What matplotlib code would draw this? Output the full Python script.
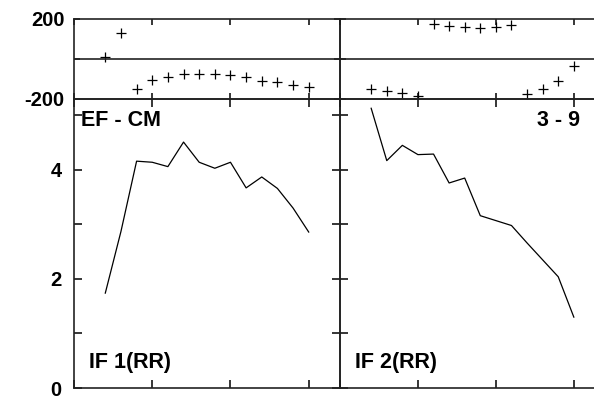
import numpy as np
import matplotlib
matplotlib.use("Agg")
import matplotlib.pyplot as plt

plt.rcParams['font.family'] = ['Liberation Sans', 'DejaVu Sans']
plt.rcParams['font.weight'] = 'bold'

# x positions (same for both columns)
x = [2, 3, 4, 5, 6, 7, 8, 9, 10, 11, 12, 13, 14, 15]

# top row: phase values (+ markers)
phase_left = [12, 128, -152, -105, -88, -75, -75, -75, -82, -92, -108, -115, -128, -142]
phase_right = [-150, -160, -170, -183, 173, 167, 162, 155, 162, 170, -177, -152, -108, -37]

# bottom row: line values
if_left = [1.74, 2.87, 4.16, 4.14, 4.06, 4.51, 4.14, 4.03, 4.14, 3.67, 3.87, 3.66, 3.30, 2.86]
if_right = [5.13, 4.17, 4.45, 4.28, 4.29, 3.76, 3.85, 3.16, 3.07, 2.98, 2.66, 2.35, 2.04, 1.30]

W, H = 594, 398
fig = plt.figure(figsize=(W / 100, H / 100), dpi=100)

def box(x0, y0, x1, y1):
    # pixel box -> figure fraction
    return [x0 / W, 1 - y1 / H, (x1 - x0) / W, (y1 - y0) / H]

def ptext(px, py, s, ha='left'):
    # text placed by pixel position of its baseline
    fig.text(px / W, 1 - py / H, s, fontsize=15.5, fontweight='bold', ha=ha, va='baseline')

ax_tl = fig.add_axes(box(74, 19, 340, 99))
ax_tr = fig.add_axes(box(340, 19, 605, 99))
ax_bl = fig.add_axes(box(74, 99, 340, 388))
ax_br = fig.add_axes(box(340, 99, 605, 388))

for ax, ph in [(ax_tl, phase_left), (ax_tr, phase_right)]:
    ax.plot(x, ph, linestyle='none', marker='+', color='black', markersize=7, markeredgewidth=0.9)
    ax.axhline(0, color='#222222', lw=1.2)
    ax.set_ylim(-200, 200)
    ax.set_yticks([-200, 0, 200])
    ax.tick_params(direction='in', length=4, width=1.1, top=True, bottom=True, right=True, left=True)

for ax, vals in [(ax_bl, if_left), (ax_br, if_right)]:
    ax.plot(x, vals, color='black', lw=0.9)
    ax.set_ylim(0, 5.3)
    ax.set_yticks([0, 1, 2, 3, 4, 5])
    ax.tick_params(direction='in', length=6, width=1.1, top=True, bottom=True, right=True, left=True)

for ax in [ax_tl, ax_tr, ax_bl, ax_br]:
    ax.set_xlim(0, 17)
    ax.set_xticks([0, 5, 10, 15])
    ax.set_xticklabels([])
    ax.patch.set_alpha(0)
    for s in ax.spines.values():
        s.set_linewidth(1.2)
        s.set_color('#222222')

for ax in [ax_tr, ax_br]:
    ax.spines['right'].set_visible(False)
    ax.tick_params(right=False)
    ax.set_yticklabels([])

ax_tl.set_yticklabels(['-200', '', '200'], fontsize=14.5, fontweight='bold')
ax_tl.tick_params(axis='y', pad=7)
ax_bl.set_yticklabels(['0', '', '2', '', '4', ''], fontsize=14.5, fontweight='bold')
ax_bl.tick_params(axis='y', pad=9)

ptext(81, 126.5, 'EF - CM')
ptext(580, 126.5, '3 - 9', ha='right')
ptext(89, 368, 'IF 1(RR)')
ptext(355, 368, 'IF 2(RR)')

fig.savefig('out.png', dpi=100)
